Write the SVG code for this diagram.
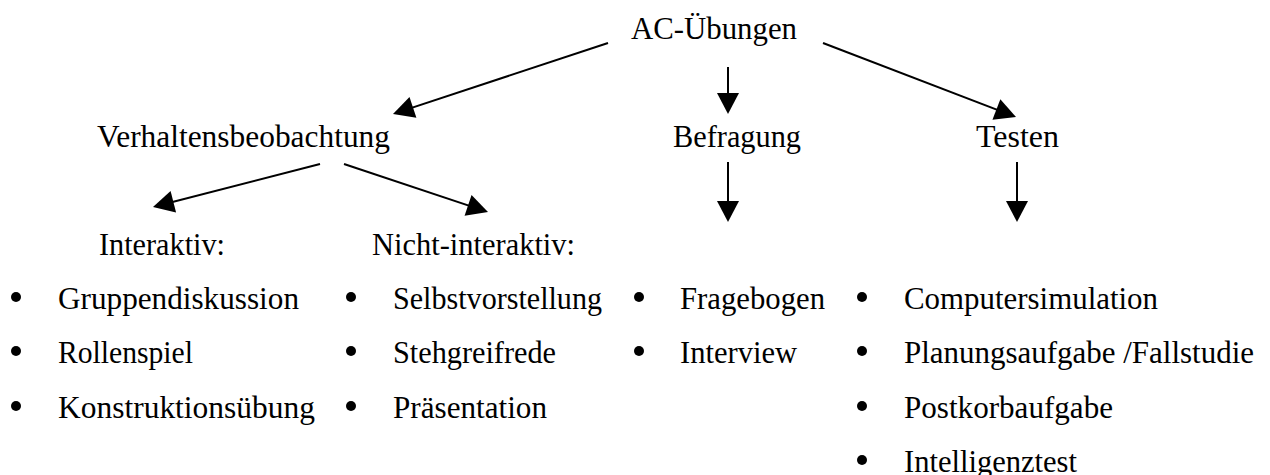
<svg xmlns="http://www.w3.org/2000/svg" width="1270" height="475" viewBox="0 0 1270 475">
<style>
text{font-family:'Liberation Serif','Tinos','Nimbus Roman','Nimbus Roman No9 L','FreeSerif','Noto Serif','DejaVu Serif','Times New Roman',Times,Georgia,serif;font-size:31px;fill:#000}
.c line{stroke:#000;stroke-width:2;fill:none}
.b{fill:#000}
</style>
<defs>
<marker id="ah" markerUnits="userSpaceOnUse" markerWidth="22" markerHeight="22" refX="15" refY="11" orient="auto" overflow="visible">
<path d="M0,0 L21,11 L0,22 z" fill="#000"/>
</marker>
</defs>
<rect width="1270" height="475" fill="#fff"/>
<g class="c" id="connectors">
<line x1="608" y1="43" x2="398.7" y2="112.1" marker-end="url(#ah)"/>
<line x1="728" y1="67" x2="728" y2="108" marker-end="url(#ah)"/>
<line x1="823" y1="43" x2="1010.4" y2="114.9" marker-end="url(#ah)"/>
<line x1="320" y1="164" x2="158.8" y2="205.5" marker-end="url(#ah)"/>
<line x1="344" y1="164" x2="482.3" y2="210.1" marker-end="url(#ah)"/>
<line x1="728" y1="162" x2="728" y2="216" marker-end="url(#ah)"/>
<line x1="1017" y1="162" x2="1017" y2="216" marker-end="url(#ah)"/>
</g>
<g id="n-ac"><text x="631" y="39" textLength="166" lengthAdjust="spacingAndGlyphs">AC-Übungen</text></g>
<g id="n-verhalten"><text x="97" y="147" textLength="293" lengthAdjust="spacingAndGlyphs">Verhaltensbeobachtung</text></g>
<g id="n-befragung"><text x="673" y="147" textLength="128" lengthAdjust="spacingAndGlyphs">Befragung</text></g>
<g id="n-testen"><text x="976" y="147" textLength="83" lengthAdjust="spacingAndGlyphs">Testen</text></g>
<g id="n-interaktiv"><text x="99" y="255" textLength="126" lengthAdjust="spacingAndGlyphs">Interaktiv:</text></g>
<g id="n-nichtinteraktiv"><text x="372" y="255" textLength="203" lengthAdjust="spacingAndGlyphs">Nicht-interaktiv:</text></g>
<g id="list-interaktiv">
<circle class="b" cx="16" cy="297" r="5"/><text x="58" y="309" textLength="241" lengthAdjust="spacingAndGlyphs">Gruppendiskussion</text>
<circle class="b" cx="16" cy="351" r="5"/><text x="58" y="363" textLength="135" lengthAdjust="spacingAndGlyphs">Rollenspiel</text>
<circle class="b" cx="16" cy="406" r="5"/><text x="58" y="418" textLength="257" lengthAdjust="spacingAndGlyphs">Konstruktionsübung</text>
</g>
<g id="list-nichtinteraktiv">
<circle class="b" cx="351" cy="297" r="5"/><text x="393" y="309" textLength="209" lengthAdjust="spacingAndGlyphs">Selbstvorstellung</text>
<circle class="b" cx="351" cy="351" r="5"/><text x="393" y="363" textLength="163" lengthAdjust="spacingAndGlyphs">Stehgreifrede</text>
<circle class="b" cx="351" cy="406" r="5"/><text x="393" y="418" textLength="154" lengthAdjust="spacingAndGlyphs">Präsentation</text>
</g>
<g id="list-befragung">
<circle class="b" cx="639" cy="297" r="5"/><text x="680" y="309" textLength="145" lengthAdjust="spacingAndGlyphs">Fragebogen</text>
<circle class="b" cx="639" cy="351" r="5"/><text x="680" y="363" textLength="117" lengthAdjust="spacingAndGlyphs">Interview</text>
</g>
<g id="list-testen">
<circle class="b" cx="862" cy="297" r="5"/><text x="904" y="309" textLength="254" lengthAdjust="spacingAndGlyphs">Computersimulation</text>
<circle class="b" cx="862" cy="351" r="5"/><text x="904" y="363" textLength="350" lengthAdjust="spacingAndGlyphs">Planungsaufgabe /Fallstudie</text>
<circle class="b" cx="862" cy="406" r="5"/><text x="904" y="418" textLength="209" lengthAdjust="spacingAndGlyphs">Postkorbaufgabe</text>
<circle class="b" cx="862" cy="460" r="5"/><text x="904" y="472" textLength="173" lengthAdjust="spacingAndGlyphs">Intelligenztest</text>
</g>
</svg>
